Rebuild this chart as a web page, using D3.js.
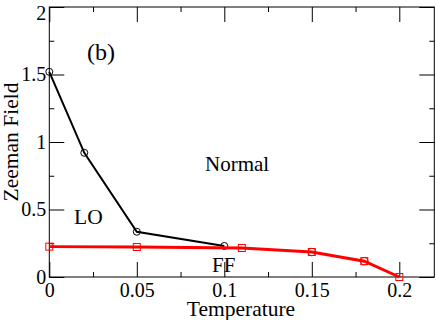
<!DOCTYPE html>
<html>
<head>
<meta charset="utf-8">
<script src="https://cdn.jsdelivr.net/npm/d3@7"></script>
<style>
  body { margin: 0; background: #fff; }
  svg text { font-family: "Liberation Serif", "Times New Roman", serif; }
</style>
</head>
<body>
<div id="chart"></div>
<script>
// data
var loT = [0, 0.02, 0.05, 0.1],
    loH = [1.52, 0.92, 0.335, 0.23];
var ffT = [0, 0.05, 0.11, 0.15, 0.18, 0.2],
    ffH = [0.225, 0.222, 0.215, 0.185, 0.117, 0.0];
var ffCircT = [0.15, 0.18],
    ffCircH = [0.185, 0.117];
var xMajor = [0, 0.05, 0.1, 0.15, 0.2],
    xMinor = [0.025, 0.075, 0.125, 0.175],
    yMajor = [0, 0.5, 1, 1.5, 2],
    yMinor = [0.25, 0.75, 1.25, 1.75];
var xLabels = ['0', '0.05', '0.1', '0.15', '0.2'],
    yLabels = ['0', '0.5', '1', '1.5', '2'];

var width = 436, height = 320;
var serif = '"Liberation Serif", "Times New Roman", serif';

var svg = d3.select('#chart').append('svg')
  .attr('width', width)
  .attr('height', height)
  .attr('font-family', serif);

var x = d3.scaleLinear().domain([0, 0.22]).range([49.3, 434.3]);
var y = d3.scaleLinear().domain([0, 2]).range([277, 7]);

// frame
svg.append('rect')
  .attr('x', x(0)).attr('y', y(2))
  .attr('width', x(0.22) - x(0)).attr('height', y(0) - y(2))
  .attr('fill', 'none').attr('stroke', 'black').attr('stroke-width', 1);

function fmt(arr, labels) {
  return function (d) { return labels[arr.indexOf(d)]; };
}

// bottom axis
svg.append('g').attr('transform', 'translate(0,' + y(0) + ')')
  .call(d3.axisBottom(x).tickValues(xMajor).tickSize(-15).tickPadding(6)
    .tickFormat(fmt(xMajor, xLabels)));
svg.append('g').attr('transform', 'translate(0,' + y(0) + ')')
  .call(d3.axisBottom(x).tickValues(xMinor).tickSize(-5).tickFormat(''));
// top axis
svg.append('g').attr('transform', 'translate(0,' + y(2) + ')')
  .call(d3.axisTop(x).tickValues(xMajor).tickSize(-15).tickFormat(''));
svg.append('g').attr('transform', 'translate(0,' + y(2) + ')')
  .call(d3.axisTop(x).tickValues(xMinor).tickSize(-5).tickFormat(''));
// left axis
var gl = svg.append('g').attr('transform', 'translate(' + x(0) + ',0)')
  .call(d3.axisLeft(y).tickValues(yMajor).tickSize(-15).tickPadding(3)
    .tickFormat(fmt(yMajor, yLabels)));
svg.append('g').attr('transform', 'translate(' + x(0) + ',0)')
  .call(d3.axisLeft(y).tickValues(yMinor).tickSize(-5).tickFormat(''));
// right axis
svg.append('g').attr('transform', 'translate(' + x(0.22) + ',0)')
  .call(d3.axisRight(y).tickValues(yMajor).tickSize(-15).tickFormat(''));
svg.append('g').attr('transform', 'translate(' + x(0.22) + ',0)')
  .call(d3.axisRight(y).tickValues(yMinor).tickSize(-5).tickFormat(''));

svg.selectAll('.domain').remove();
svg.selectAll('g').attr('font-family', serif).attr('font-size', 20);
svg.selectAll('.tick line').attr('stroke', 'black');
svg.selectAll('.tick text').attr('fill', 'black');
// the top label sits a little lower so it stays inside the picture
gl.selectAll('.tick text').filter(function (d) { return d === 2; })
  .attr('dy', '0.62em');

// axis titles
svg.append('text')
  .attr('x', 241).attr('y', 316)
  .attr('text-anchor', 'middle')
  .attr('font-size', 21.5)
  .text('Temperature');
svg.append('text')
  .attr('transform', 'translate(18,142) rotate(-90)')
  .attr('text-anchor', 'middle')
  .attr('font-size', 21.5)
  .text('Zeeman Field');

// lines
var line = d3.line()
  .x(function (d) { return x(d[0]); })
  .y(function (d) { return y(d[1]); });

var loPts = loT.map(function (t, i) { return [t, loH[i]]; });
var ffPts = ffT.map(function (t, i) { return [t, ffH[i]]; });
var ffCirc = ffCircT.map(function (t, i) { return [t, ffCircH[i]]; });

svg.append('path').datum(loPts)
  .attr('d', line)
  .attr('fill', 'none').attr('stroke', 'black').attr('stroke-width', 2);
svg.selectAll('.lo-pt').data(loPts).enter().append('circle')
  .attr('cx', function (d) { return x(d[0]); })
  .attr('cy', function (d) { return y(d[1]); })
  .attr('r', 3.5)
  .attr('fill', 'none').attr('stroke', 'black').attr('stroke-width', 1);

svg.append('path').datum(ffPts)
  .attr('d', line)
  .attr('fill', 'none').attr('stroke', 'red').attr('stroke-width', 3);
svg.selectAll('.ff-pt').data(ffPts).enter().append('rect')
  .attr('x', function (d) { return x(d[0]) - 3.5; })
  .attr('y', function (d) { return y(d[1]) - 3.5; })
  .attr('width', 7).attr('height', 7)
  .attr('fill', 'none').attr('stroke', 'red').attr('stroke-width', 1);
svg.selectAll('.ffc-pt').data(ffCirc).enter().append('circle')
  .attr('cx', function (d) { return x(d[0]); })
  .attr('cy', function (d) { return y(d[1]); })
  .attr('r', 3.8)
  .attr('fill', 'none').attr('stroke', 'red').attr('stroke-width', 1);

// region labels
var notes = [
  { t: '(b)', x: 87, y: 60, s: 24 },
  { t: 'Normal', x: 205, y: 171, s: 21 },
  { t: 'LO', x: 74, y: 224, s: 21.5 },
  { t: 'FF', x: 212, y: 272, s: 21 }
];
notes.forEach(function (n) {
  svg.append('text')
    .attr('x', n.x).attr('y', n.y)
    .attr('font-size', n.s)
    .text(n.t);
});
</script>
</body>
</html>
